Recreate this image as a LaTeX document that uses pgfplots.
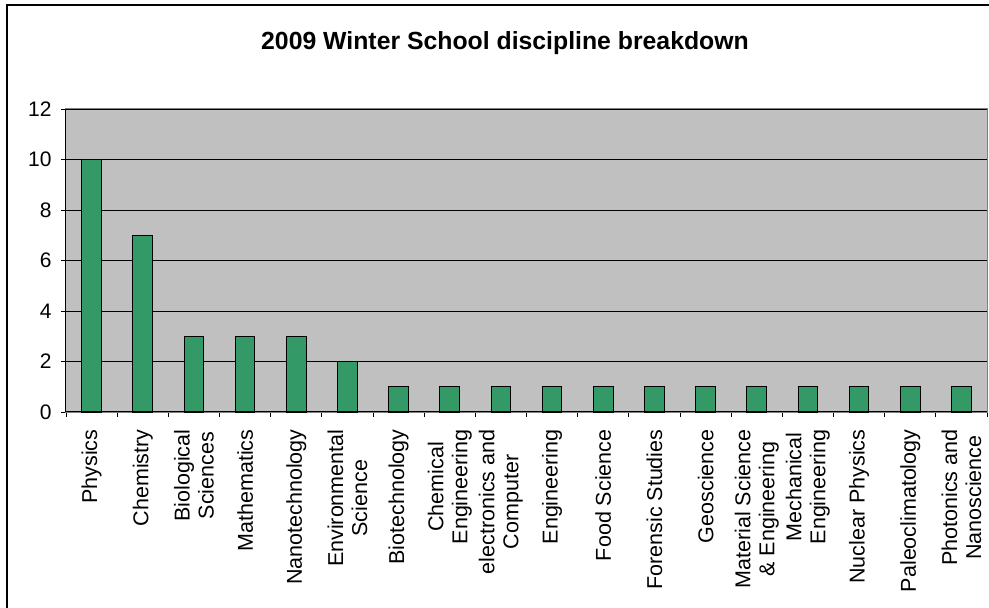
\documentclass[border=0pt]{standalone}
\usepackage{pgfplots}
\pgfplotsset{compat=1.18}
\usepackage{fontspec}
\setmainfont{Liberation Sans}
\definecolor{plotgray}{HTML}{C0C0C0}
\definecolor{bargreen}{HTML}{339966}

\begin{document}
\begin{tikzpicture}[x=1pt,y=1pt]
\begin{axis}[
  name=ax, at={(0,0)}, anchor=south west,
  width=921pt, height=303pt, scale only axis,
  xmin=-0.5, xmax=17.5, ymin=0, ymax=12,
  ytick={0,2,...,12},
  ymajorgrids, grid style={black, line width=0.8pt},
  axis background/.style={fill=plotgray},
  axis line style={draw=gray, line width=1pt},
  tick align=outside, tick style={black, line width=0.8pt},
  xtick pos=bottom, ytick pos=left,
  major tick length=5pt, minor tick length=5pt,
  xtick={0,...,17}, major x tick style={draw=none},
  minor xtick={-0.5,0.5,...,17.5},
  xticklabels={Physics, Chemistry, Biological\\Sciences, Mathematics,
    Nanotechnology, Environmental\\Science, Biotechnology, Chemical\\Engineering,
    electronics and\\Computer, Engineering, Food Science, Forensic Studies,
    Geoscience, {Material Science\\\& Engineering}, Mechanical\\Engineering,
    Nuclear Physics, Paleoclimatology, Photonics and\\Nanoscience},
  xticklabel style={yshift=-9pt, rotate=90, anchor=east, align=center,
    font=\fontsize{21.5}{24}\selectfont},
  yticklabel style={font=\fontsize{21}{24}\selectfont, xshift=-6pt},
  /pgf/number format/assume math mode=true,
]
\addplot[ybar, bar width=0.383, fill=bargreen, draw=black, line width=1pt]
  coordinates {(0,10) (1,7) (2,3) (3,3) (4,3) (5,2) (6,1) (7,1) (8,1)
    (9,1) (10,1) (11,1) (12,1) (13,1) (14,1) (15,1) (16,1) (17,1)};
\end{axis}
\draw[black, line width=1pt] (ax.north west) -- (ax.south west) -- (ax.south east);
\pgfresetboundingbox
\path[use as bounding box] (-66,-196) rectangle (923,412);
\draw[black, line width=2pt] (-59,-220) -- (-59,407) -- (950,407);
\node[font=\fontsize{24.8}{28}\selectfont\bfseries] at (439,369) {2009 Winter School discipline breakdown};
\end{tikzpicture}
\end{document}
